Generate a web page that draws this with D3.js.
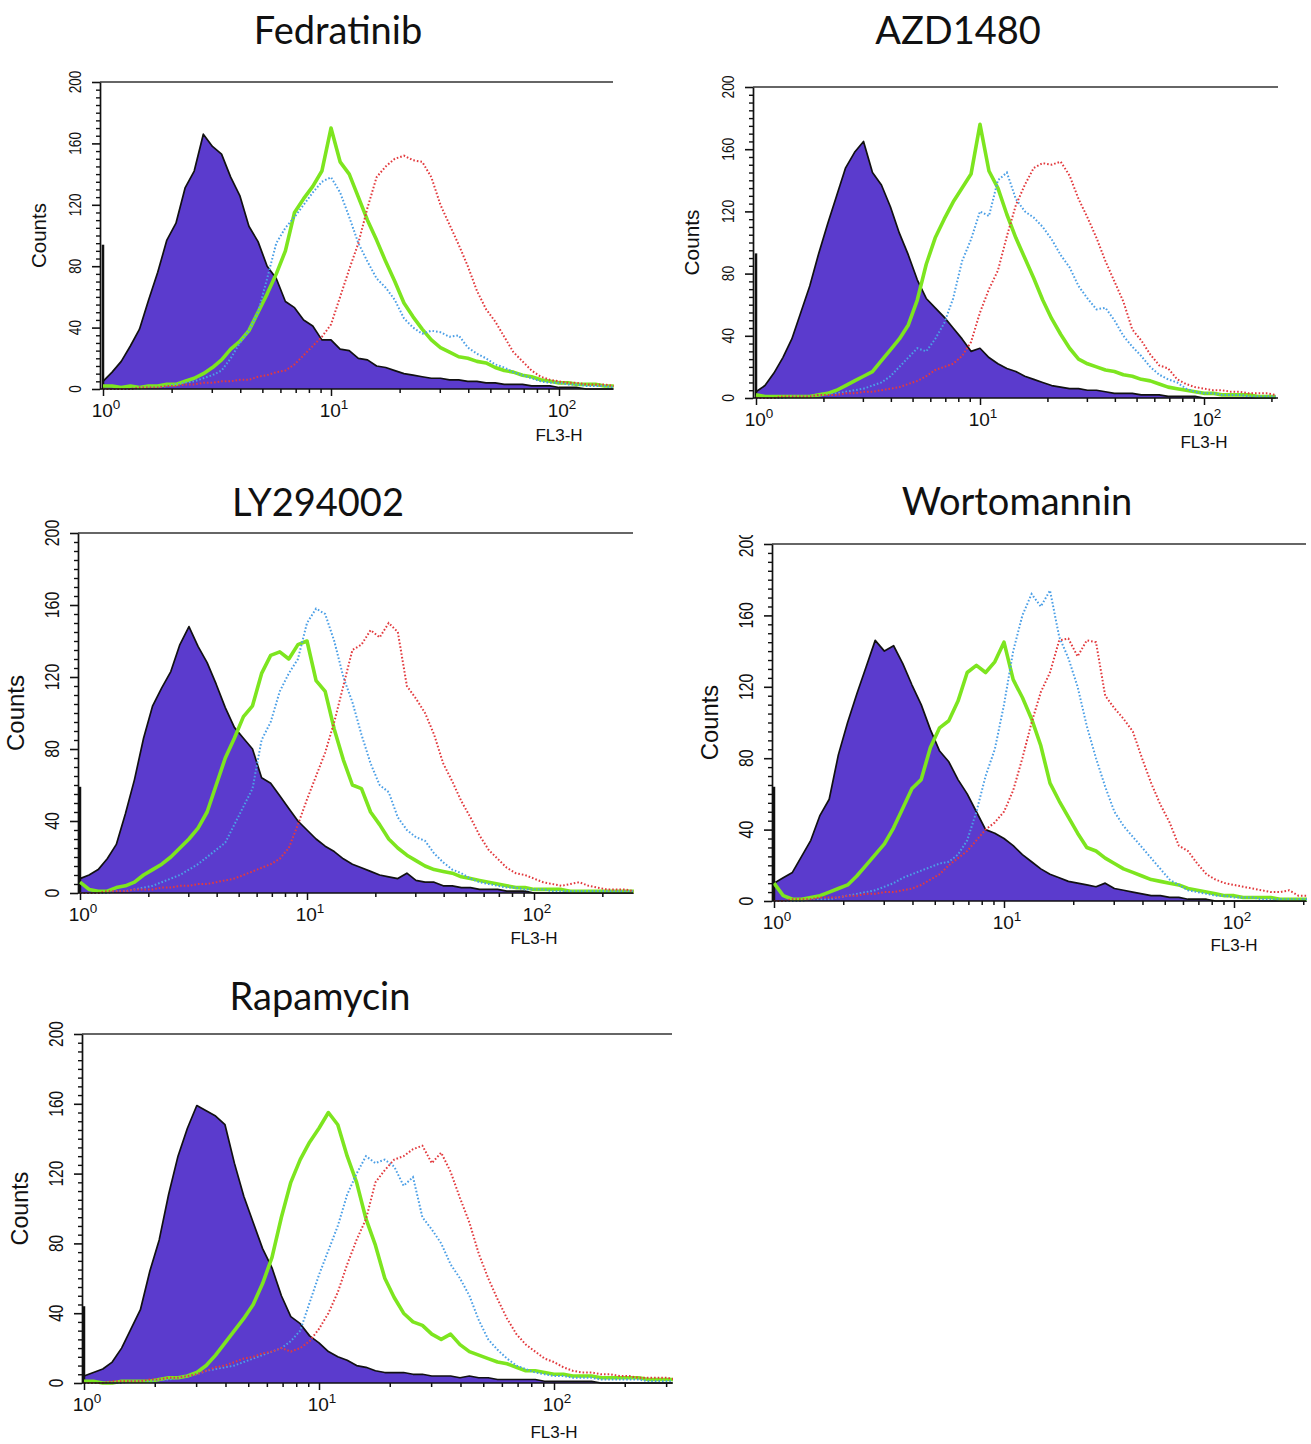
<!DOCTYPE html>
<html><head><meta charset="utf-8">
<script src="https://cdn.jsdelivr.net/npm/d3@7/dist/d3.min.js"></script>
<style>body{margin:0;background:#fff} svg{display:block}</style>
</head><body>
<svg id="chart" width="1311" height="1444"></svg>
<script>
// ---------- DATA ----------
const titles = ["Fedratinib", "AZD1480", "LY294002", "Wortomannin", "Rapamycin"];
const binStep = 0.04;               // decades per histogram bin, first bin at 10^0
const yTickValues = [0, 40, 80, 120, 160, 200];
const xAxisLabel = "FL3-H";
const yAxisLabel = "Counts";
const firstChannel = [94, 93, 59, 64, 44];   // pile-up in the first channel (black spike)

const fedPurple = [5,11,18,28,39,58,76,97,108,131,142,166,158,153,138,126,106,96,80,72,57,53,45,41,32,32,26,25,20,19,15,14,12,10,9,8,7,7,6,6,5,5,4,4,3,3,3,2,2,2,1,1,1,0,0,0,0];
const fedGreen  = [2,2,1,2,1,2,2,3,3,5,7,10,14,19,26,31,38,50,62,75,90,115,124,132,142,170,148,140,125,110,97,83,70,56,47,39,32,27,24,21,20,18,17,14,12,11,9,8,6,5,4,4,3,3,3,2,2];
const fedBlue   = [0,0,0,0,1,1,1,2,3,4,5,7,9,12,20,30,38,50,72,95,105,112,120,128,135,138,128,112,95,83,72,66,58,46,40,36,38,37,34,35,27,23,20,16,14,11,9,7,5,4,4,3,3,2,2,2,1];
const fedRed    = [0,0,0,0,1,1,1,2,2,3,3,4,4,5,5,6,6,8,9,11,12,16,22,28,34,42,60,78,95,118,138,145,150,152,149,148,138,120,107,94,80,64,52,44,34,24,18,12,8,6,5,4,4,3,3,3,2];

const azdPurple = [4,8,16,26,38,55,72,93,112,130,148,158,165,145,137,123,106,92,76,64,58,52,45,38,30,32,26,22,19,17,14,12,10,8,7,6,6,5,5,4,3,3,3,2,2,2,1,1,1,1,0,0,0,0,0,0,0,0,0];
const azdGreen  = [2,1,1,1,1,1,1,2,3,5,8,11,14,17,24,31,38,47,63,86,103,115,126,135,144,176,146,135,118,103,90,77,63,51,41,32,25,22,20,18,17,15,14,12,11,9,7,6,5,4,3,3,2,2,2,2,1,1,1];
const azdBlue   = [0,0,0,0,1,1,1,2,2,3,4,5,6,8,10,14,20,26,32,30,38,48,64,88,102,120,117,140,145,128,120,116,110,102,92,84,72,64,57,58,50,40,33,27,20,15,12,10,6,4,3,3,2,2,2,1,1,1,1];
const azdRed    = [0,0,0,1,1,1,1,2,2,2,3,3,4,4,5,6,7,9,11,14,18,20,22,27,36,55,70,82,104,124,137,148,151,150,152,143,128,116,103,88,75,62,44,37,28,21,19,12,9,7,6,5,5,4,4,3,3,3,2];

const lyPurple = [8,10,13,19,27,44,63,86,104,114,123,138,148,137,128,116,103,92,86,80,64,61,54,47,40,35,30,26,23,19,16,14,12,10,9,8,11,7,6,6,4,4,3,3,2,2,2,1,1,1,0,0,0,0,0,0,0,0,0,0,0,0];
const lyGreen  = [6,2,1,1,3,4,6,10,13,16,20,25,30,36,45,60,75,86,98,104,122,132,134,130,138,140,118,112,91,74,60,58,45,38,30,25,21,18,15,13,12,11,9,8,7,6,5,4,3,3,2,2,2,2,1,1,1,1,1,1,1,1];
const lyBlue   = [0,0,0,0,1,1,2,3,4,6,8,10,13,16,20,24,28,38,48,58,85,95,112,122,130,150,158,155,140,120,106,88,72,60,56,42,35,31,29,22,17,13,11,8,6,5,4,3,3,2,2,2,1,1,1,1,1,1,1,1,1,1];
const lyRed    = [0,0,0,1,1,1,2,2,2,3,3,4,4,5,5,6,7,8,10,12,14,16,19,25,38,52,65,78,95,115,135,138,146,142,150,145,115,108,100,88,72,62,51,42,32,24,19,14,11,10,8,6,5,4,5,6,4,3,2,2,2,1];

const worPurple = [10,13,16,25,34,48,57,82,100,116,131,146,140,143,133,121,110,96,84,78,68,60,50,40,38,35,31,26,22,18,15,13,11,10,9,8,10,7,6,5,4,3,3,2,2,1,1,1,0,0,0,0,0,0,0,0,0,0,0];
const worGreen  = [10,3,1,1,2,3,5,7,9,14,20,26,32,41,52,63,68,86,97,101,112,128,132,128,134,145,124,114,102,87,66,56,47,38,30,28,24,21,18,16,14,12,11,10,9,7,6,5,4,3,3,2,2,2,2,1,1,1,1];
const worBlue   = [0,0,0,0,1,1,1,2,3,4,5,6,8,10,13,15,17,19,21,22,26,34,50,70,85,110,140,160,172,165,174,148,136,120,98,80,64,50,42,36,30,24,18,12,9,6,5,4,3,3,2,2,2,1,1,1,1,1,1];
const worRed    = [0,0,1,1,1,2,2,2,3,3,4,4,5,5,6,7,9,12,15,20,24,28,34,40,44,50,62,80,100,117,128,146,147,137,146,145,115,108,102,95,80,66,54,44,31,28,21,15,12,10,9,8,7,6,5,5,6,3,3];

const rapPurple = [4,6,8,12,20,31,42,64,82,108,130,146,159,156,153,148,126,107,92,77,66,50,38,34,27,23,18,15,13,10,9,7,6,6,6,5,5,4,4,4,3,4,3,3,2,2,2,2,2,1,1,1,1,1,1,0,0,0,0,0,0,0,0,0];
const rapGreen  = [1,1,0,0,1,1,1,1,2,3,3,4,6,10,16,23,30,37,45,57,72,95,115,128,138,146,155,148,130,115,94,79,60,49,40,35,33,28,25,28,22,18,16,14,12,11,9,7,7,6,5,5,4,4,4,3,3,3,3,3,2,2,2,2];
const rapBlue   = [0,0,0,0,0,1,1,1,2,2,3,4,5,7,8,9,10,12,14,16,18,20,24,30,46,62,76,90,108,120,130,126,128,124,113,118,95,88,80,68,60,50,36,25,19,14,10,8,6,5,4,4,3,3,3,2,2,2,2,2,1,1,1,1];
const rapRed    = [0,0,0,1,1,1,1,2,2,3,3,4,5,7,9,10,12,14,15,17,18,20,18,20,24,31,40,52,68,82,94,115,122,128,130,134,136,126,132,121,106,92,74,60,48,37,28,22,18,14,12,9,7,6,6,5,5,4,4,3,3,3,3,2];

const purpleSeries = [fedPurple, azdPurple, lyPurple, worPurple, rapPurple];
const greenSeries  = [fedGreen,  azdGreen,  lyGreen,  worGreen,  rapGreen];
const blueSeries   = [fedBlue,   azdBlue,   lyBlue,   worBlue,   rapBlue];
const redSeries    = [fedRed,    azdRed,    lyRed,    worRed,    rapRed];

// ---------- LAYOUT (pixels) ----------
const layouts = [
  {axisX:100, x0:103, dec:228, x1:613,  yBase:389,  yTop:82,   tx:338,  ty:44,   flDy:52},
  {axisX:753, x0:756, dec:224, x1:1278, yBase:398,  yTop:87,   tx:958,  ty:44,   flDy:50},
  {axisX:78,  x0:80,  dec:227, x1:633,  yBase:893,  yTop:533,  tx:318,  ty:516,  flDy:51},
  {axisX:772, x0:774, dec:230, x1:1306, yBase:901,  yTop:544,  tx:1017, ty:515,  flDy:50, clipTop:535},
  {axisX:82,  x0:84,  dec:235, x1:672,  yBase:1383, yTop:1034, tx:320,  ty:1010, flDy:55}
];

const colors = {purple:"#5b3bcd", outline:"#111", green:"#7de51f", blue:"#4b9fe6", red:"#e23a3e"};

const svg = d3.select("#chart");
const defs = svg.append("defs");

layouts.forEach((L, p) => {
  const maxLog = (L.x1 - L.x0) / L.dec;
  const x = d3.scaleLog().domain([1, Math.pow(10, maxLog)]).range([L.x0, L.x1]);
  const y = d3.scaleLinear().domain([0, 200]).range([L.yBase, L.yTop]);
  const fs = (L.yBase - L.yTop) / 307;
  const g = svg.append("g");

  defs.append("clipPath").attr("id", "clip" + p).append("rect")
    .attr("x", L.axisX).attr("y", L.yTop - 40)
    .attr("width", L.x1 - L.axisX + 1).attr("height", L.yBase - L.yTop + 42);

  const toPts = arr => arr.map((v, i) => ({x: Math.pow(10, i * binStep), v}));
  const area = d3.area().x(d => x(d.x)).y0(y(0)).y1(d => y(d.v));
  const line = d3.line().x(d => x(d.x)).y(d => y(d.v));

  const plot = g.append("g").attr("clip-path", `url(#clip${p})`);
  const purplePts = toPts(purpleSeries[p]);
  plot.append("path").datum(purplePts).attr("d", area).attr("fill", colors.purple);
  plot.append("path").datum(purplePts).attr("d", line)
    .attr("fill", "none").attr("stroke", colors.outline).attr("stroke-width", 1.7).attr("stroke-linejoin", "round");
  plot.append("line")
    .attr("x1", x(1)).attr("x2", x(1)).attr("y1", y(0)).attr("y2", y(firstChannel[p]))
    .attr("stroke", colors.outline).attr("stroke-width", 2.5);

  plot.append("path").datum(toPts(greenSeries[p])).attr("d", line)
    .attr("fill", "none").attr("stroke", colors.green).attr("stroke-width", 3.6).attr("stroke-linejoin", "round");
  plot.append("path").datum(toPts(blueSeries[p])).attr("d", line)
    .attr("fill", "none").attr("stroke", colors.blue).attr("stroke-width", 2).attr("stroke-dasharray", "1.6 2");
  plot.append("path").datum(toPts(redSeries[p])).attr("d", line)
    .attr("fill", "none").attr("stroke", colors.red).attr("stroke-width", 2).attr("stroke-dasharray", "1.6 2");

  // frame lines
  g.append("line").attr("x1", L.axisX).attr("x2", L.x1).attr("y1", L.yTop).attr("y2", L.yTop)
    .attr("stroke", "#333").attr("stroke-width", 1.6);
  g.append("line").attr("x1", L.axisX).attr("x2", L.x1).attr("y1", L.yBase).attr("y2", L.yBase)
    .attr("stroke", "#111").attr("stroke-width", 1.6);

  // x axis ticks
  const majors = [], minors = [];
  for (let k = 0; k <= 3; k++) {
    for (let m = 1; m <= 9; m++) {
      const v = m * Math.pow(10, k);
      if (v > x.domain()[1]) continue;
      (m === 1 ? majors : minors).push(v);
    }
  }
  const xAxisMinor = d3.axisBottom(x).tickValues(minors).tickSize(4).tickSizeOuter(0).tickFormat("");
  const xAxisMajor = d3.axisBottom(x).tickValues(majors).tickSize(7).tickSizeOuter(0).tickFormat("");
  [xAxisMinor, xAxisMajor].forEach(ax => {
    g.append("g").attr("transform", `translate(0,${L.yBase})`).call(ax)
      .call(s => s.select(".domain").remove())
      .call(s => s.selectAll("line").attr("stroke", "#111").attr("stroke-width", 1.5));
  });
  majors.forEach(v => {
    const t = g.append("text").attr("x", x(v) + 3).attr("y", L.yBase + 28)
      .attr("text-anchor", "middle").attr("font-family", "Liberation Sans, Arial, sans-serif")
      .attr("font-size", 19).attr("fill", "#111");
    t.append("tspan").text("10");
    t.append("tspan").attr("dy", -8).attr("font-size", 13.5).text(String(Math.round(Math.log10(v))));
  });
  g.append("text").attr("x", x(100)).attr("y", L.yBase + L.flDy)
    .attr("text-anchor", "middle").attr("font-family", "Liberation Sans, Arial, sans-serif")
    .attr("font-size", 17).attr("fill", "#111").text(xAxisLabel);

  // y axis
  const yMinor = d3.range(0, 201, 5).filter(v => v % 40 !== 0);
  const yg = g.append("g").attr("transform", `translate(${L.axisX},0)`);
  yg.call(d3.axisLeft(y).tickValues(yMinor).tickSize(4).tickSizeOuter(0).tickFormat(""))
    .call(s => s.select(".domain").attr("stroke", "#111").attr("stroke-width", 1.7))
    .call(s => s.selectAll(".tick line").attr("stroke", "#111").attr("stroke-width", 1.4));
  g.append("g").attr("transform", `translate(${L.axisX},0)`)
    .call(d3.axisLeft(y).tickValues(yTickValues).tickSize(8).tickSizeOuter(0).tickFormat(""))
    .call(s => s.select(".domain").remove())
    .call(s => s.selectAll(".tick line").attr("stroke", "#111").attr("stroke-width", 1.6));

  const labG = g.append("g");
  if (L.clipTop) {
    defs.append("clipPath").attr("id", "lclip" + p).append("rect")
      .attr("x", 0).attr("y", L.clipTop).attr("width", 1311).attr("height", 1444);
    labG.attr("clip-path", `url(#lclip${p})`);
  }
  yTickValues.forEach(v => {
    labG.append("text")
      .attr("transform", `translate(${L.axisX - 19},${y(v)}) rotate(-90) scale(0.8,1)`)
      .attr("text-anchor", "middle").attr("font-family", "Liberation Sans, Arial, sans-serif")
      .attr("font-size", 17 * fs).attr("fill", "#111").text(v);
  });
  g.append("text")
    .attr("transform", `translate(${L.axisX - 54},${(L.yBase + L.yTop) / 2}) rotate(-90)`)
    .attr("text-anchor", "middle").attr("font-family", "Liberation Sans, Arial, sans-serif")
    .attr("font-size", 20.5 * fs).attr("fill", "#111").text(yAxisLabel);

  // title
  g.append("text").attr("x", L.tx).attr("y", L.ty).attr("text-anchor", "middle")
    .attr("font-family", "Lato, 'Open Sans', sans-serif").attr("font-size", 38)
    .attr("fill", "#111").text(titles[p]);
});
</script>
</body></html>
